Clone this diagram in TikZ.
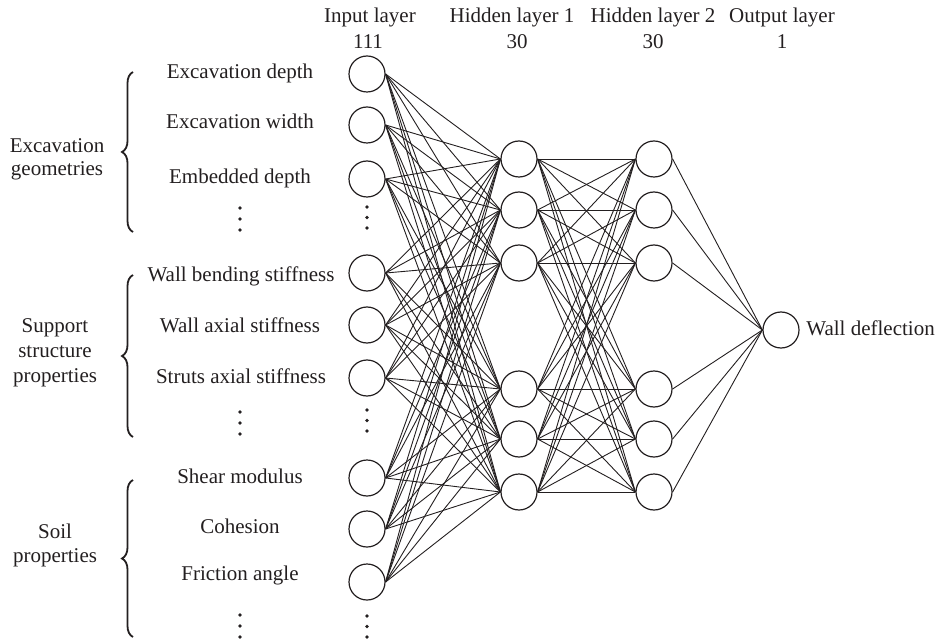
\documentclass[tikz,border=0pt]{standalone}
\usepackage{fontspec}
\setmainfont{Liberation Serif}
\usetikzlibrary{decorations.pathreplacing}
\definecolor{ink}{RGB}{35,31,32}
\begin{document}
\begin{tikzpicture}[x=0.5pt,y=-0.5pt,
  neuron/.style={circle,draw=ink,line width=0.6pt,minimum size=18pt,inner sep=0pt},
  lbl/.style={font=\fontsize{10.5}{12.5}\selectfont,text=ink,inner sep=0pt,anchor=base},
  edge/.style={draw=ink,line width=0.45pt},
  vdot/.style={circle,fill=ink,inner sep=0pt,minimum size=1.9pt},
  grp/.style={draw=ink,decorate,decoration={brace,amplitude=5.5pt},line width=0.9pt}]
\useasboundingbox (0,0) rectangle (935,641);

% headers
\node[lbl] (hin) at (370,23) {Input layer};
\node[lbl] (nin) at (368,49) {111};
\node[lbl] (hh1) at (512,23) {Hidden layer 1};
\node[lbl] (nh1) at (517,49) {30};
\node[lbl] (hh2) at (653,23) {Hidden layer 2};
\node[lbl] (nh2) at (653,49) {30};
\node[lbl] (hout) at (782,23) {Output layer};
\node[lbl] (nout) at (782,49) {1};

% input neurons
\foreach \n/\y in {1/74,2/125,3/179,4/273,5/325,6/378,7/478,8/529,9/582}
  \node[neuron] (i\n) at (367,\y) {};
% hidden layers
\foreach \n/\y in {1/159,2/210,3/263,4/389,5/439,6/492}{
  \node[neuron] (h\n) at (519,\y) {};
  \node[neuron] (g\n) at (654,\y) {};
}
\node[neuron] (o) at (781,330) {};

% connections
\foreach \a in {1,...,9}
  \foreach \b in {1,...,6}
    \draw[edge] (i\a.east) -- (h\b.west);
\foreach \a in {1,...,6}
  \foreach \b in {1,...,6}
    \draw[edge] (h\a.east) -- (g\b.west);
\foreach \a in {1,...,6}
  \draw[edge] (g\a.east) -- (o.west);

\node[lbl,anchor=base west] (wd) at (806,335) {Wall deflection};

% feature labels
\node[lbl] (f1) at (240,79) {Excavation depth};
\node[lbl] (f2) at (240,129) {Excavation width};
\node[lbl] (f3) at (240,184) {Embedded depth};
\node[lbl] (f4) at (241,282) {Wall bending stiffness};
\node[lbl] (f5) at (240,332) {Wall axial stiffness};
\node[lbl] (f6) at (241,383) {Struts axial stiffness};
\node[lbl] (f7) at (240,483) {Shear modulus};
\node[lbl] (f8) at (240,533) {Cohesion};
\node[lbl] (f9) at (240,580) {Friction angle};

% vertical dots
\foreach \k/\ya/\yb in {a/208/207,b/412/410,c/615/616}{
  \foreach \d in {0,1,2}{
    \node[vdot] (td\k\d) at (240,\ya+\d*11) {};
    \node[vdot] (nd\k\d) at (367,\yb+\d*10.5) {};
  }
}

% group labels
\node[lbl] (g1a) at (57,153) {Excavation};
\node[lbl] (g1b) at (57,176) {geometries};
\node[lbl] (g2a) at (55,332) {Support};
\node[lbl] (g2b) at (55,357) {structure};
\node[lbl] (g2c) at (55,382) {properties};
\node[lbl] (g3a) at (55,538) {Soil};
\node[lbl] (g3b) at (55,562) {properties};

% braces
\coordinate (b1s) at (133,232); \coordinate (b1e) at (133,72);
\coordinate (b2s) at (133,437); \coordinate (b2e) at (133,275);
\coordinate (b3s) at (133,637); \coordinate (b3e) at (133,480);
\draw[grp] (b1s) -- (b1e);
\draw[grp] (b2s) -- (b2e);
\draw[grp] (b3s) -- (b3e);
\end{tikzpicture}
\end{document}
